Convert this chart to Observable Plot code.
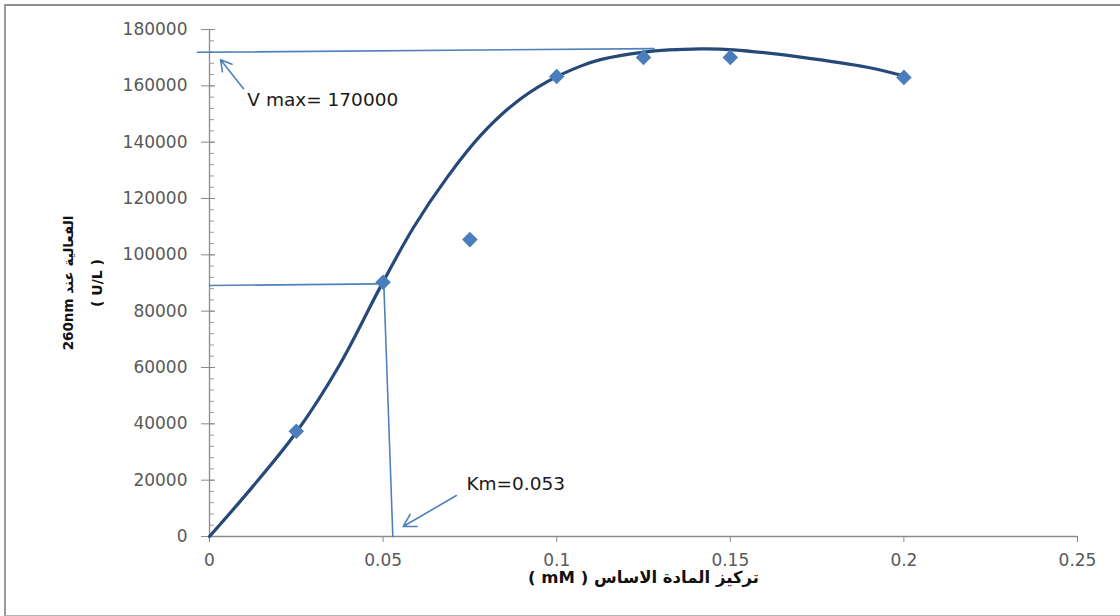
<!DOCTYPE html>
<html><head><meta charset="utf-8">
<script src="https://cdn.jsdelivr.net/npm/d3@7"></script>
<script src="https://cdn.jsdelivr.net/npm/@observablehq/plot@0.6"></script>
<style>
html,body{margin:0;padding:0;background:#fff;width:1120px;height:616px;overflow:hidden;}
#chart{position:absolute;left:0;top:0;}
#frame{position:absolute;left:4px;top:4px;width:1120px;height:609px;border-left:2px solid #9a9a9a;border-top:2px solid #8c8c8c;border-bottom:2px solid #b4b4b4;pointer-events:none;}
</style></head><body><div id="chart"></div><div id="frame"></div>
<script>
// measured points
const concentration = [0.025, 0.05, 0.075, 0.1, 0.125, 0.15, 0.2];
const activity = [37400, 90300, 105400, 163300, 170100, 170100, 163000];
// fitted curve
const curveX = [0, 0.0125, 0.025, 0.0375, 0.0493, 0.0588, 0.0685, 0.0781, 0.0876, 0.0973, 0.1069, 0.1126, 0.1246, 0.1414, 0.1509, 0.1702, 0.1894, 0.2];
const curveY = [0, 17800, 37000, 61000, 88800, 109800, 127600, 142400, 153500, 161500, 167000, 169300, 171900, 173100, 172800, 170200, 166600, 163500];
// ticks
const xTicks = [0, 0.05, 0.1, 0.15, 0.2, 0.25];
const xTickLabels = ["0", "0.05", "0.1", "0.15", "0.2", "0.25"];
const yTicks = [0, 20000, 40000, 60000, 80000, 100000, 120000, 140000, 160000, 180000];
const yMinorTicks = d3.range(0, 180001, 4000);
// guide lines
const vmaxLineX = [-0.0035, 0.128];
const vmaxLineY = [171900, 173200];
const kmHLineX = [0, 0.0483];
const kmHLineY = [89100, 89700];
const kmVLineX = [0.0502, 0.0528];
const kmVLineY = [89800, 0];
// annotations
const arrowFromX = [0.0098, 0.0711];
const arrowFromY = [159000, 14550];
const arrowToX = [0.0032, 0.0558];
const arrowToY = [169300, 3550];
const noteText = ["V max= 170000", "Km=0.053"];
const noteX = [0.0109, 0.074];
const noteY = [155100, 18460];
const xTitle = "\u202Bتركيز المادة الاساس ( mM )\u202C";
const yTitle1 = "\u202Bالفعالية عند 260nm\u202C";
const yTitle2 = "( U/L )";

const points = concentration.map((x, i) => ({x, y: activity[i]}));
const curve = curveX.map((x, i) => ({x, y: curveY[i]}));
const seg = (xs, ys) => xs.map((x, i) => ({x, y: ys[i]}));
const arrows = arrowFromX.map((x, i) => ({x1: x, y1: arrowFromY[i], x2: arrowToX[i], y2: arrowToY[i]}));
const notes = noteText.map((t, i) => ({t, x: noteX[i], y: noteY[i]}));
const lineColor = "#4f81bd";
const tickFmt = d => xTickLabels[xTicks.indexOf(d)];

const chart = Plot.plot({
  width: 1120, height: 616,
  marginLeft: 209, marginRight: 43, marginTop: 29, marginBottom: 80,
  x: {domain: [0, 0.25]},
  y: {domain: [0, 180000]},
  style: {fontFamily: "DejaVu Sans, sans-serif", background: "transparent", color: "#595959"},
  marks: [
    Plot.ruleY([0], {stroke: "#8a8a8a", strokeWidth: 1.3}),
    Plot.ruleX([0], {stroke: "#8a8a8a", strokeWidth: 1.3}),
    Plot.axisX({ticks: xTicks, tickFormat: tickFmt, tickSize: 6, tickPadding: 11, fontSize: 17, stroke: "#8a8a8a", fill: "#595959", label: null}),
    Plot.axisY({ticks: yMinorTicks, tickSize: 5, dx: 5, text: null, stroke: "#9a9a9a", label: null}),
    Plot.axisY({ticks: yTicks, tickFormat: d => String(d), tickSize: 14, dx: 6, tickPadding: 14, fontSize: 17, stroke: "#8a8a8a", fill: "#595959", label: null}),
    Plot.line(seg(vmaxLineX, vmaxLineY), {x: "x", y: "y", stroke: lineColor, strokeWidth: 1.6}),
    Plot.line(seg(kmHLineX, kmHLineY), {x: "x", y: "y", stroke: lineColor, strokeWidth: 1.6}),
    Plot.line(seg(kmVLineX, kmVLineY), {x: "x", y: "y", stroke: lineColor, strokeWidth: 1.6}),
    Plot.line(curve, {x: "x", y: "y", curve: "catmull-rom", stroke: "#27497a", strokeWidth: 3.2}),
    Plot.dot(points, {x: "x", y: "y", symbol: "diamond2", r: 7, fill: "#4a7ebb", stroke: "none"}),
    Plot.arrow(arrows, {x1: "x1", y1: "y1", x2: "x2", y2: "y2", stroke: lineColor, strokeWidth: 1.6, headLength: 13}),
    Plot.text(notes, {x: "x", y: "y", text: "t", textAnchor: "start", fontSize: 18.5, fill: "#1a1a1a"}),
    Plot.text([xTitle], {frameAnchor: "bottom", textAnchor: "middle", dy: 46, fontSize: 16.5, fontWeight: "bold", fill: "#111"}),
    Plot.text([yTitle1], {frameAnchor: "left", textAnchor: "middle", dx: -141, rotate: -90, fontSize: 13.5, fontWeight: "bold", fill: "#111"}),
    Plot.text([yTitle2], {frameAnchor: "left", textAnchor: "middle", dx: -112, rotate: -90, fontSize: 14, fontWeight: "bold", fill: "#111"})
  ]
});
document.getElementById("chart").appendChild(chart);
</script></body></html>
